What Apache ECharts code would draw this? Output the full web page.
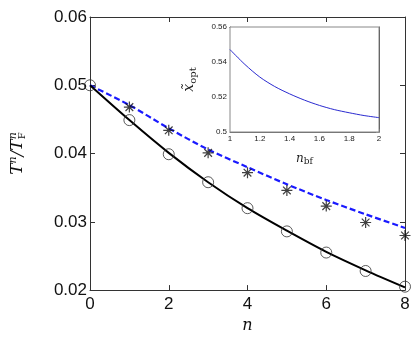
<!DOCTYPE html>
<html lang="en" style="height: 100%;margin: 0;">
<head>
    <meta charset="UTF-8">
    <title>chart</title>
</head>
<body style="height: 100%;margin: 0;background: #fff;">
<div id="chart" style="width: 415px;height: 339px;margin: 0;"></div>
<script src="https://cdn.jsdelivr.net/npm/echarts@6/dist/echarts.min.js"></script>
<script>
    var nValues = [0, 1, 2, 3, 4, 5, 6, 7, 8];
    var circleValues = [0.0500, 0.0449, 0.0399, 0.0358, 0.0320, 0.0286, 0.0255, 0.0228, 0.0205];
    var starValues = [0.0500, 0.0468, 0.0434, 0.0401, 0.0372, 0.0346, 0.0323, 0.0299, 0.0280];
    var blackLine = [0.0500, 0.0449, 0.0401, 0.0358, 0.0320, 0.0287, 0.0256, 0.0229, 0.0204];
    var blueLine = [0.0500, 0.0471, 0.0437, 0.0406, 0.0380, 0.0355, 0.0332, 0.0311, 0.0291];
    var insetX = [1, 1.1, 1.2, 1.3, 1.4, 1.5, 1.6, 1.7, 1.8, 1.9, 2];
    var insetY = [0.5471, 0.5386, 0.5314, 0.5260, 0.5218, 0.5182, 0.5152, 0.5128, 0.5110, 0.5094, 0.5082];

    function pairs(xs, ys) {
        var out = [];
        for (var i = 0; i < xs.length; i++) {
            out.push([xs[i], ys[i]]);
        }
        return out;
    }

    var starPath = 'path://M0,-5L0,5M-5,0L5,0M-3.5,-3.5L3.5,3.5M-3.5,3.5L3.5,-3.5';
    var axisColor = '#333';
    var labelFont = {color: '#111', fontFamily: 'Liberation Sans, Arial', fontSize: 17};
    var smallFont = {color: '#222', fontFamily: 'Liberation Sans, Arial', fontSize: 8};

    var myChart = echarts.init(document.getElementById('chart'), null, {renderer: 'canvas'});
    var option = {
        animation: false,
        backgroundColor: '#fff',
        grid: [
            {left: 87, right: 10, top: 17, bottom: 40, show: false},
            {left: 230, right: 36, top: 27, bottom: 207, show: true, backgroundColor: '#fff', borderColor: '#888', borderWidth: 1, z: 5}
        ],
        xAxis: [
            {
                gridIndex: 0, type: 'value', min: 0, max: 8, interval: 2,
                name: 'n', nameLocation: 'middle', nameGap: 26,
                nameTextStyle: {fontFamily: 'DejaVu Serif', fontStyle: 'italic', fontSize: 16, color: '#111'},
                axisLine: {show: true, lineStyle: {color: axisColor, width: 1}},
                axisTick: {show: true, inside: true, length: 5, lineStyle: {color: axisColor}},
                axisLabel: Object.assign({margin: 6}, labelFont),
                splitLine: {show: false}
            },
            {
                gridIndex: 0, type: 'value', min: 0, max: 8, interval: 2, position: 'top',
                axisLine: {show: true, onZero: false, lineStyle: {color: axisColor, width: 1}},
                axisTick: {show: true, inside: true, length: 5, lineStyle: {color: axisColor}},
                axisLabel: {show: false},
                splitLine: {show: false}
            },
            {
                gridIndex: 1, type: 'value', min: 1, max: 2, interval: 0.2,
                name: 'n{sub|bf}', nameLocation: 'middle', nameGap: 19,
                nameTextStyle: {fontFamily: 'DejaVu Serif', fontStyle: 'italic', fontSize: 12, color: '#222',
                    rich: {sub: {fontFamily: 'DejaVu Serif', fontStyle: 'normal', fontSize: 9, color: '#222', padding: [6, 0, 0, 0]}}},
                axisLine: {show: true, lineStyle: {color: '#666', width: 1}},
                axisTick: {show: true, inside: true, length: 3, lineStyle: {color: '#666'}},
                axisLabel: Object.assign({margin: 3, formatter: function (v) { return String(+v.toFixed(1)); }}, smallFont),
                splitLine: {show: false}
            },
            {
                gridIndex: 1, type: 'value', min: 1, max: 2, interval: 0.2, position: 'top',
                axisLine: {show: true, onZero: false, lineStyle: {color: '#111', width: 1}},
                axisTick: {show: true, inside: true, length: 3, lineStyle: {color: '#666'}},
                axisLabel: {show: false},
                splitLine: {show: false}
            }
        ],
        yAxis: [
            {
                gridIndex: 0, type: 'value', min: 0.02, max: 0.06, interval: 0.01,
                name: '{i|T}{sup|n}{i|/T}{sup|n}{sub|F}', nameLocation: 'middle', nameGap: 62,
                nameTextStyle: {
                    fontFamily: 'DejaVu Serif', fontStyle: 'italic', fontSize: 17, color: '#111',
                    rich: {
                        i: {fontFamily: 'DejaVu Serif', fontStyle: 'italic', fontSize: 17, color: '#111'},
                        sup: {fontFamily: 'DejaVu Serif', fontStyle: 'italic', fontSize: 11, color: '#111', padding: [0, 0, 9, 0]},
                        sub: {fontFamily: 'DejaVu Serif', fontStyle: 'normal', fontSize: 10, color: '#111', padding: [8, 0, 0, -7]}
                    }
                },
                axisLine: {show: true, lineStyle: {color: axisColor, width: 1}},
                axisTick: {show: true, inside: true, length: 5, lineStyle: {color: axisColor}},
                axisLabel: Object.assign({margin: 3, formatter: function (v) { return v.toFixed(2); }}, labelFont),
                splitLine: {show: false}
            },
            {
                gridIndex: 0, type: 'value', min: 0.02, max: 0.06, interval: 0.01, position: 'right',
                axisLine: {show: true, onZero: false, lineStyle: {color: axisColor, width: 1}},
                axisTick: {show: true, inside: true, length: 5, lineStyle: {color: axisColor}},
                axisLabel: {show: false},
                splitLine: {show: false}
            },
            {
                gridIndex: 1, type: 'value', min: 0.5, max: 0.56, interval: 0.02,
                name: 'x\u0303{sub|opt}', nameLocation: 'middle', nameGap: 32,
                nameTextStyle: {fontFamily: 'DejaVu Serif', fontStyle: 'italic', fontSize: 14, color: '#222',
                    rich: {sub: {fontFamily: 'DejaVu Serif', fontStyle: 'normal', fontSize: 10, color: '#222', padding: [7, 0, 0, 0]}}},
                axisLine: {show: true, lineStyle: {color: '#666', width: 1}},
                axisTick: {show: true, inside: true, length: 3, lineStyle: {color: '#666'}},
                axisLabel: Object.assign({margin: 3, formatter: function (v) { return String(+v.toFixed(2)); }}, smallFont),
                splitLine: {show: false}
            },
            {
                gridIndex: 1, type: 'value', min: 0.5, max: 0.56, interval: 0.02, position: 'right',
                axisLine: {show: true, onZero: false, lineStyle: {color: '#444', width: 1}},
                axisTick: {show: true, inside: true, length: 3, lineStyle: {color: '#999'}},
                axisLabel: {show: false},
                splitLine: {show: false}
            }
        ],
        series: [
            {
                type: 'line', xAxisIndex: 0, yAxisIndex: 0, data: pairs(nValues, blueLine),
                smooth: 0.3, showSymbol: false, z: 2,
                lineStyle: {color: '#1a1aff', width: 2.2, type: [6, 3]}
            },
            {
                type: 'line', xAxisIndex: 0, yAxisIndex: 0, data: pairs(nValues, blackLine),
                smooth: 0.3, showSymbol: false, z: 2,
                lineStyle: {color: '#000', width: 2}
            },
            {
                type: 'scatter', xAxisIndex: 0, yAxisIndex: 0, data: pairs(nValues, circleValues),
                symbol: 'circle', symbolSize: 11, z: 3,
                itemStyle: {color: 'none', borderColor: '#333', borderWidth: 1}
            },
            {
                type: 'scatter', xAxisIndex: 0, yAxisIndex: 0, data: pairs(nValues.slice(1), starValues.slice(1)),
                symbol: starPath, symbolSize: 11, z: 3,
                itemStyle: {color: 'none', borderColor: '#111', borderWidth: 1.2}
            },
            {
                type: 'line', xAxisIndex: 2, yAxisIndex: 2, data: pairs(insetX, insetY),
                smooth: 0.3, showSymbol: false, z: 6,
                lineStyle: {color: '#2a2ad0', width: 1}
            }
        ]
    };
    myChart.setOption(option);
</script>
</body>
</html>
